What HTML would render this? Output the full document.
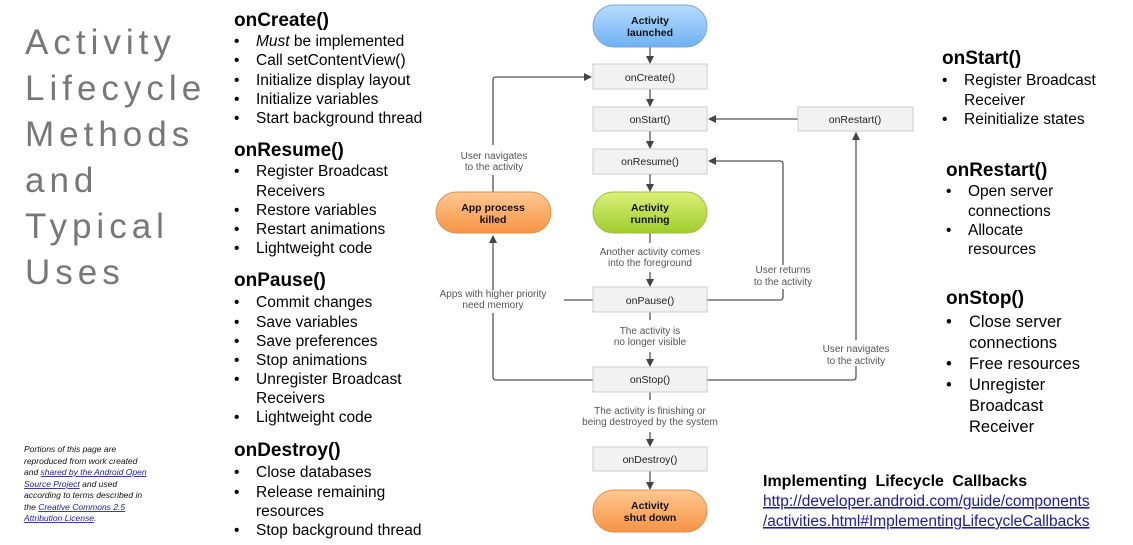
<!DOCTYPE html>
<html><head><meta charset="utf-8"><style>
html,body{margin:0;padding:0;background:#fff;width:1133px;height:545px;overflow:hidden}
svg{display:block}
.t{font-family:"Liberation Sans",sans-serif;fill:#000}
.h{font-size:19px;font-weight:bold}
.b{font-size:15.5px}
.r{font-size:16.5px}
.d{font-family:"Liberation Sans",sans-serif;font-size:10px;fill:#555;text-anchor:middle}
.bx{fill:#f2f2f2;stroke:#ccc;stroke-width:1}
.bl{font-family:"Liberation Sans",sans-serif;font-size:10.5px;fill:#222;text-anchor:middle}
.pl{font-family:"Liberation Sans",sans-serif;font-size:10.5px;font-weight:bold;fill:#111;text-anchor:middle}
.ln{stroke:#555;stroke-width:1.3;fill:none}
.ti{font-family:"Liberation Sans",sans-serif;font-size:35px;fill:#777;letter-spacing:5px}
.lk{fill:#1a1aa6;text-decoration:underline}
</style></head><body>
<svg width="1133" height="545" viewBox="0 0 1133 545">
<defs>
<marker id="a" markerWidth="8" markerHeight="8" refX="7" refY="4" orient="auto" markerUnits="userSpaceOnUse"><path d="M0,0 L8,4 L0,8 z" fill="#444"/></marker>
<linearGradient id="gb" x1="0" y1="0" x2="0" y2="1"><stop offset="0" stop-color="#b8dcff"/><stop offset="1" stop-color="#6fb0f2"/></linearGradient>
<linearGradient id="gg" x1="0" y1="0" x2="0" y2="1"><stop offset="0" stop-color="#dcf07a"/><stop offset="1" stop-color="#9fcd2a"/></linearGradient>
<linearGradient id="go" x1="0" y1="0" x2="0" y2="1"><stop offset="0" stop-color="#ffc890"/><stop offset="1" stop-color="#f59445"/></linearGradient>
</defs>
<!-- title -->
<text class="ti" x="25" y="54">Activity</text>
<text class="ti" x="25" y="100">Lifecycle</text>
<text class="ti" x="25" y="146">Methods</text>
<text class="ti" x="25" y="192">and</text>
<text class="ti" x="25" y="238">Typical</text>
<text class="ti" x="25" y="284">Uses</text>
<!-- footnote -->
<g font-family="Liberation Sans,sans-serif" font-size="8.5" font-style="italic" fill="#111">
<text x="24" y="452">Portions of this page are</text>
<text x="24" y="464">reproduced from work created</text>
<text x="24" y="475">and <tspan class="lk">shared by the Android Open</tspan></text>
<text x="24" y="487"><tspan class="lk">Source Project</tspan> and used</text>
<text x="24" y="498">according to terms described in</text>
<text x="24" y="510">the <tspan class="lk">Creative Commons 2.5</tspan></text>
<text x="24" y="521"><tspan class="lk">Attribution License</tspan>.</text>
</g>
<!-- middle column -->
<g class="t">
<text class="t h" x="234" y="26">onCreate()</text>
<g class="b">
<text x="234" y="46">•</text><text x="256" y="46"><tspan font-style="italic">Must</tspan> be implemented</text>
<text x="234" y="65">•</text><text x="256" y="65">Call setContentView()</text>
<text x="234" y="85">•</text><text x="256" y="85">Initialize display layout</text>
<text x="234" y="104">•</text><text x="256" y="104">Initialize variables</text>
<text x="234" y="123">•</text><text x="256" y="123">Start background thread</text>
</g>
<text class="t h" x="234" y="156">onResume()</text>
<g class="b">
<text x="234" y="176">•</text><text x="256" y="176">Register Broadcast</text>
<text x="256" y="196">Receivers</text>
<text x="234" y="215">•</text><text x="256" y="215">Restore variables</text>
<text x="234" y="234">•</text><text x="256" y="234">Restart animations</text>
<text x="234" y="253">•</text><text x="256" y="253">Lightweight code</text>
</g>
<text class="t h" x="234" y="286">onPause()</text>
<g class="b">
<text x="234" y="307">•</text><text x="256" y="307">Commit changes</text>
<text x="234" y="327">•</text><text x="256" y="327">Save variables</text>
<text x="234" y="346">•</text><text x="256" y="346">Save preferences</text>
<text x="234" y="365">•</text><text x="256" y="365">Stop animations</text>
<text x="234" y="384">•</text><text x="256" y="384">Unregister Broadcast</text>
<text x="256" y="403">Receivers</text>
<text x="234" y="422">•</text><text x="256" y="422">Lightweight code</text>
</g>
<text class="t h" x="234" y="456">onDestroy()</text>
<g class="b">
<text x="234" y="477">•</text><text x="256" y="477">Close databases</text>
<text x="234" y="497">•</text><text x="256" y="497">Release remaining</text>
<text x="256" y="516">resources</text>
<text x="234" y="535">•</text><text x="256" y="535">Stop background thread</text>
</g>
</g>
<!-- right column -->
<g class="t">
<text class="t h" x="942" y="64">onStart()</text>
<g class="b" font-size="15.5">
<text x="942" y="85">•</text><text x="964" y="85">Register Broadcast</text>
<text x="964" y="105">Receiver</text>
<text x="942" y="124">•</text><text x="964" y="124">Reinitialize states</text>
</g>
<text class="t h" x="946" y="176">onRestart()</text>
<g class="b">
<text x="946" y="196">•</text><text x="968" y="196">Open server</text>
<text x="968" y="216">connections</text>
<text x="946" y="235">•</text><text x="968" y="235">Allocate</text>
<text x="968" y="254">resources</text>
</g>
<text class="t h" x="946" y="304">onStop()</text>
<g class="r">
<text x="946" y="327">•</text><text x="969" y="327">Close server</text>
<text x="969" y="348">connections</text>
<text x="946" y="369">•</text><text x="969" y="369">Free resources</text>
<text x="946" y="390">•</text><text x="969" y="390">Unregister</text>
<text x="969" y="411">Broadcast</text>
<text x="969" y="432">Receiver</text>
</g>
<text x="763" y="486" font-size="16" font-weight="bold" word-spacing="4">Implementing Lifecycle Callbacks</text>
<text x="763" y="506" font-size="15.5" class="lk">http://developer.android.com/guide/components</text>
<text x="763" y="526" font-size="15.5" class="lk">/activities.html#ImplementingLifecycleCallbacks</text>
</g>
<!-- diagram lines -->
<g class="ln">
<line x1="650" y1="47" x2="650" y2="63" marker-end="url(#a)"/>
<line x1="650" y1="89" x2="650" y2="106" marker-end="url(#a)"/>
<line x1="650" y1="131" x2="650" y2="148" marker-end="url(#a)"/>
<line x1="650" y1="174" x2="650" y2="191" marker-end="url(#a)"/>
<line x1="650" y1="233" x2="650" y2="243"/>
<line x1="650" y1="272" x2="650" y2="286" marker-end="url(#a)"/>
<line x1="650" y1="312" x2="650" y2="320"/>
<line x1="650" y1="352" x2="650" y2="366" marker-end="url(#a)"/>
<line x1="650" y1="392" x2="650" y2="400"/>
<line x1="650" y1="432" x2="650" y2="446" marker-end="url(#a)"/>
<line x1="650" y1="471" x2="650" y2="489" marker-end="url(#a)"/>
<line x1="798" y1="119" x2="709" y2="119" marker-end="url(#a)"/>
<path d="M493,192 V80 Q493,77 496,77 H591" marker-end="url(#a)"/>
<line x1="493" y1="173" x2="493" y2="155" stroke="none"/>
<path d="M593,300 H564"/>
<path d="M493,313 V377 Q493,380 496,380 H593"/>
<line x1="493" y1="290" x2="493" y2="236" marker-end="url(#a)"/>
<path d="M707,300 H780 Q783,300 783,297 V289"/>
<path d="M783,265 V164 Q783,161 780,161 H709" marker-end="url(#a)"/>
<path d="M707,380 H853 Q856,380 856,377 V366"/>
<line x1="856" y1="340" x2="856" y2="133" marker-end="url(#a)"/>
</g>
<!-- connector labels -->
<rect x="445" y="145" width="100" height="30" fill="#fff"/>
<text class="d" x="494" y="159">User navigates</text>
<text class="d" x="494" y="170">to the activity</text>
<text class="d" x="650" y="255">Another activity comes</text>
<text class="d" x="650" y="266">into the foreground</text>
<text class="d" x="783" y="273">User returns</text>
<text class="d" x="783" y="285">to the activity</text>
<text class="d" x="493" y="297">Apps with higher priority</text>
<text class="d" x="493" y="308">need memory</text>
<text class="d" x="650" y="334">The activity is</text>
<text class="d" x="650" y="345">no longer visible</text>
<text class="d" x="856" y="352">User navigates</text>
<text class="d" x="856" y="364">to the activity</text>
<text class="d" x="650" y="414">The activity is finishing or</text>
<text class="d" x="650" y="425">being destroyed by the system</text>
<!-- nodes -->
<rect x="593" y="5" width="114" height="42" rx="21" fill="url(#gb)" stroke="#7aa8d8"/>
<text class="pl" x="650" y="24">Activity</text><text class="pl" x="650" y="36">launched</text>
<rect class="bx" x="593" y="64" width="114" height="25"/><text class="bl" x="650" y="81">onCreate()</text>
<rect class="bx" x="593" y="107" width="114" height="24"/><text class="bl" x="650" y="123">onStart()</text>
<rect class="bx" x="798" y="107" width="115" height="24"/><text class="bl" x="855" y="123">onRestart()</text>
<rect class="bx" x="593" y="149" width="114" height="25"/><text class="bl" x="650" y="165">onResume()</text>
<rect x="593" y="192" width="114" height="41" rx="20.5" fill="url(#gg)" stroke="#9cbf40"/>
<text class="pl" x="650" y="211">Activity</text><text class="pl" x="650" y="223">running</text>
<rect x="436" y="192" width="115" height="41" rx="20.5" fill="url(#go)" stroke="#e0914f"/>
<text class="pl" x="493" y="211">App process</text><text class="pl" x="493" y="223">killed</text>
<rect class="bx" x="593" y="287" width="114" height="25"/><text class="bl" x="650" y="304">onPause()</text>
<rect class="bx" x="593" y="367" width="114" height="25"/><text class="bl" x="650" y="383">onStop()</text>
<rect class="bx" x="593" y="447" width="114" height="24"/><text class="bl" x="650" y="463">onDestroy()</text>
<rect x="593" y="490" width="114" height="42" rx="21" fill="url(#go)" stroke="#e0914f"/>
<text class="pl" x="650" y="509">Activity</text><text class="pl" x="650" y="521">shut down</text>
</svg>
</body></html>
